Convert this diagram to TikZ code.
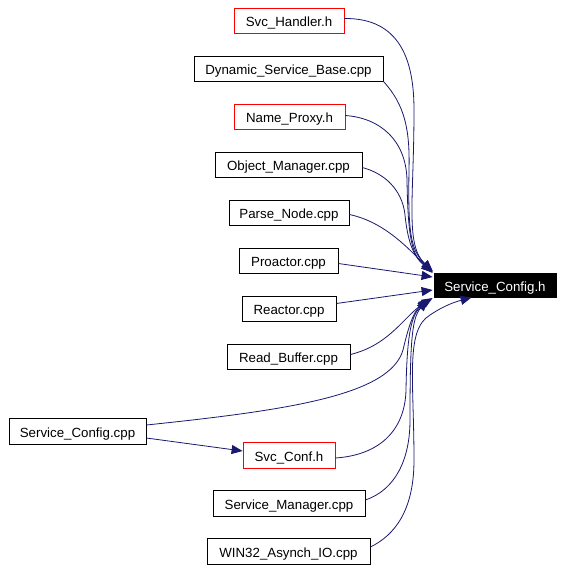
\documentclass[tikz,border=0pt]{standalone}
\usepackage{fontspec}
\setmainfont{Liberation Sans}
\usetikzlibrary{arrows.meta,calc}
\definecolor{edgeblue}{HTML}{191970}
\begin{document}
\begin{tikzpicture}[x=1pt,y=-1pt,
  filebox/.style={draw=black,line width=0.8pt,inner sep=0pt,minimum height=25pt,text height=12pt,text depth=0pt,font=\fontsize{13.3}{16}\selectfont},
  redbox/.style={filebox,draw=red},
  mainbox/.style={filebox,fill=black,text=white},
  dep/.style={draw=edgeblue,line width=0.8pt,-{Triangle[length=11pt,width=9pt]}}]
\path[use as bounding box,fill=white] (0,0) rectangle (564,570);
\node[redbox,minimum width=110pt] (svch) at (289,20.5) {Svc\_Handler.h};
\node[filebox,minimum width=189pt] (dsb) at (288.5,68.5) {Dynamic\_Service\_Base.cpp};
\node[redbox,minimum width=111pt] (np) at (289.5,116.5) {Name\_Proxy.h};
\node[filebox,minimum width=147pt] (om) at (288.5,164.5) {Object\_Manager.cpp};
\node[filebox,minimum width=120pt] (pn) at (289,212.5) {Parse\_Node.cpp};
\node[filebox,minimum width=99pt] (pro) at (288.5,260.5) {Proactor.cpp};
\node[filebox,minimum width=94pt] (rea) at (289,308.5) {Reactor.cpp};
\node[filebox,minimum width=123pt] (rb) at (288.5,356.5) {Read\_Buffer.cpp};
\node[filebox,minimum width=137pt,minimum height=26pt] (scc) at (77.5,431) {Service\_Config.cpp};
\node[redbox,minimum width=92pt,minimum height=26pt] (conf) at (289,455) {Svc\_Conf.h};
\node[filebox,minimum width=152pt,minimum height=26pt] (sm) at (289,503) {Service\_Manager.cpp};
\node[filebox,minimum width=163pt,minimum height=26pt] (w32) at (288.5,551) {WIN32\_Asynch\_IO.cpp};
\node[mainbox,minimum width=122pt,minimum height=24pt] (sc) at (495,285) {Service\_Config.h};
% edges
\draw[dep] ($(svch.east)+(0,-2)$) .. controls (400,18) and (414,60) .. (414,110) .. controls (414,200) and (405,245) .. ($(sc.west)+(-1,-14)$);
\draw[dep] (dsb.south east) .. controls (405,105) and (410,130) .. (409,170) .. controls (408,230) and (410,250) .. ($(sc.west)+(-1,-14)$);
\draw[dep] ($(np.east)+(0,-1)$) .. controls (380,118) and (406,140) .. (407,180) .. controls (408,240) and (412,255) .. ($(sc.west)+(-1,-13)$);
\draw[dep] ($(om.east)+(0,3)$) .. controls (390,175) and (403,195) .. (405,215) .. controls (408,245) and (415,258) .. ($(sc.west)+(-1,-13)$);
\draw[dep] ($(pn.east)+(0,2)$) .. controls (385,222) and (410,250) .. ($(sc.west)+(-1,-12)$);
\draw[dep] ($(pro.east)+(0,3)$) -- ($(sc.west)+(-1,-8)$);
\draw[dep] ($(rea.east)+(0,-5)$) -- ($(sc.west)+(-1,5)$);
\draw[dep] ($(rb.east)+(0,-2)$) .. controls (390,345) and (405,315) .. ($(sc.west)+(-1,13)$);
\draw[dep] ($(scc.east)+(0,-6)$) .. controls (290,410) and (390,395) .. (403,350) .. controls (410,320) and (415,310) .. ($(sc.west)+(-4,14)$);
\draw[dep] ($(scc.east)+(0,7)$) -- ($(conf.west)+(0,-4)$);
\draw[dep] ($(conf.east)+(0,3)$) .. controls (380,455) and (405,430) .. (406,390) .. controls (407,330) and (412,315) .. ($(sc.west)+(-5,14)$);
\draw[dep] ($(sm.east)+(0,-3)$) .. controls (395,490) and (410,460) .. (410,420) .. controls (410,340) and (412,318) .. ($(sc.west)+(-6,15)$);
\draw[dep] ($(w32.east)+(0,-4)$) .. controls (395,535) and (414,510) .. (414,460) .. controls (414,380) and (405,330) .. (430,315) .. controls (445,305) and (455,302) .. ($(sc.south west)+(38,0)$);
\end{tikzpicture}
\end{document}
